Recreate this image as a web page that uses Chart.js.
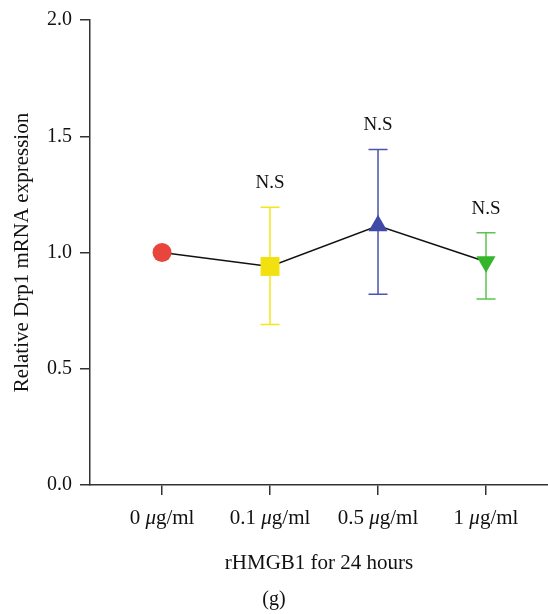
<!DOCTYPE html>
<html>
<head>
<meta charset="utf-8">
<script src="https://cdn.jsdelivr.net/npm/chart.js@4/dist/chart.umd.min.js"></script>
<style>
  html, body { margin: 0; padding: 0; background: #fff; overflow: hidden; }
  #wrap { width: 548px; height: 614px; position: relative; }
  #drp1_chart { display: block; }
</style>
</head>
<body>
<div id="wrap"><canvas id="drp1_chart"></canvas></div>
<script>
// doses and values
const doses = ["0", "0.1", "0.5", "1"];
const meanExpr = [1.0, 0.94, 1.115, 0.96];
const errLow = [null, 0.69, 0.82, 0.80];
const errHigh = [null, 1.195, 1.443, 1.085];
const sigText = ["", "N.S", "N.S", "N.S"];
const yTicks = [0, 0.5, 1.0, 1.5, 2.0];

const markerColors = ["#e8453c", "#f2e010", "#3f4aa6", "#35b52a"];
const barColors = ["#e8453c", "#f5e61a", "#4b55ad", "#5cc44e"];
const markerStyles = ["circle", "rect", "triangle", "triangle"];
const markerRadius = [9.5, 13.4, 11, 11];
const markerRotation = [0, 0, 0, 180];

const FONT = "'Liberation Serif', 'DejaVu Serif', serif";
const AXIS = "#333";

const errorBars = {
  id: "errorBars",
  beforeDatasetsDraw(chart) {
    const ctx = chart.ctx;
    const xs = chart.scales.x, ys = chart.scales.y;
    ctx.save();
    ctx.lineWidth = 1.5;
    doses.forEach((d, i) => {
      if (errLow[i] == null) return;
      const x = xs.getPixelForValue(i);
      const yl = ys.getPixelForValue(errLow[i]);
      const yh = ys.getPixelForValue(errHigh[i]);
      ctx.strokeStyle = barColors[i];
      ctx.beginPath();
      ctx.moveTo(x, yl); ctx.lineTo(x, yh);
      ctx.moveTo(x - 9.5, yl); ctx.lineTo(x + 9.5, yl);
      ctx.moveTo(x - 9.5, yh); ctx.lineTo(x + 9.5, yh);
      ctx.stroke();
    });
    ctx.restore();
  },
  afterDatasetsDraw(chart) {
    const ctx = chart.ctx;
    const xs = chart.scales.x, ys = chart.scales.y;
    ctx.save();
    ctx.fillStyle = "#111";
    ctx.textAlign = "center";
    ctx.textBaseline = "middle";
    ctx.font = "19px " + FONT;
    doses.forEach((d, i) => {
      if (!sigText[i]) return;
      ctx.fillText(sigText[i], xs.getPixelForValue(i), ys.getPixelForValue(errHigh[i]) - 24);
    });
    // x tick labels with italic mu
    ctx.textAlign = "left";
    const y = xs.top + 33;
    const reg = "21px " + FONT, ital = "italic 21px " + FONT;
    doses.forEach((d, i) => {
      const a = d + " ", b = "\u03bc", c = "g/ml";
      ctx.font = reg;
      const wa = ctx.measureText(a).width, wc = ctx.measureText(c).width;
      ctx.font = ital;
      const wb = ctx.measureText(b).width;
      const x = xs.getPixelForValue(i) - (wa + wb + wc) / 2;
      ctx.font = reg;
      ctx.fillText(a, x, y);
      ctx.font = ital;
      ctx.fillText(b, x + wa, y);
      ctx.font = reg;
      ctx.fillText(c, x + wa + wb, y);
    });
    ctx.restore();
  }
};

new Chart(document.getElementById("drp1_chart"), {
  type: "line",
  data: {
    datasets: [{
      data: meanExpr.map((v, i) => ({ x: i, y: v })),
      borderColor: "#111",
      borderWidth: 1.5,
      fill: false,
      tension: 0,
      pointStyle: markerStyles,
      pointRadius: markerRadius,
      pointRotation: markerRotation,
      pointBackgroundColor: markerColors,
      pointBorderColor: markerColors,
      pointBorderWidth: 0,
    }],
  },
  options: {
    responsive: true,
    maintainAspectRatio: false,
    animation: false,
    layout: { autoPadding: false, padding: { top: 18, right: 0, left: 0, bottom: 0 } },
    plugins: {
      legend: { display: false },
      tooltip: { enabled: false },
      title: {
        display: true,
        position: "bottom",
        text: "(g)",
        color: "#111",
        font: { family: FONT, size: 20, weight: "normal" },
        padding: { top: 12, bottom: 2 },
      },
    },
    scales: {
      x: {
        type: "linear",
        min: -0.667,
        max: 3.574,
        afterBuildTicks: (s) => { s.ticks = doses.map((d, i) => ({ value: i })); },
        afterFit: (s) => { s.height = 91; },
        ticks: { color: "rgba(0,0,0,0)", font: { family: FONT, size: 12 }, padding: 12 },
        grid: { display: true, drawOnChartArea: false, tickLength: 10, color: AXIS, lineWidth: 1.5 },
        border: { display: true, color: AXIS, width: 1.5 },
        title: {
          display: true,
          text: "rHMGB1 for 24 hours",
          color: "#111",
          font: { family: FONT, size: 21 },
          padding: { top: 0, bottom: 0 },
        },
      },
      y: {
        min: 0,
        max: 2,
        afterBuildTicks: (s) => { s.ticks = yTicks.map((v) => ({ value: v })); },
        afterFit: (s) => { s.width = 90; },
        ticks: {
          color: "#111",
          font: { family: FONT, size: 20 },
          padding: 8,
          callback: (v) => Number(v).toFixed(1),
        },
        grid: { display: true, drawOnChartArea: false, tickLength: 10, color: AXIS, lineWidth: 1.5 },
        border: { display: true, color: AXIS, width: 1.5 },
        title: {
          display: true,
          text: "Relative Drp1 mRNA expression",
          color: "#111",
          font: { family: FONT, size: 21 },
          padding: { top: 10, bottom: 0 },
        },
      },
    },
  },
  plugins: [errorBars],
});
</script>
</body>
</html>
